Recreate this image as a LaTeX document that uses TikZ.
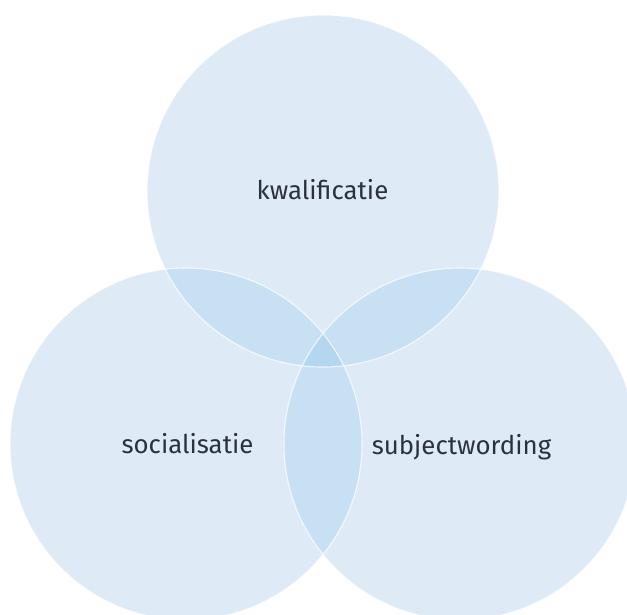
\documentclass[tikz,border=0pt]{standalone}
\usepackage{fontspec}
\setmainfont{Fira Sans}
\definecolor{one}{HTML}{DEEBF7}
\definecolor{two}{HTML}{C8E0F3}
\definecolor{three}{HTML}{B4D6EF}
\definecolor{ink}{HTML}{2C323C}
\begin{document}
\begin{tikzpicture}[x=1pt,y=-1pt,
  lbl/.style={anchor=base,text=ink,font=\fontsize{25.8}{30}\selectfont,inner sep=0pt},
  ring/.style={draw=white,draw opacity=0.75,line width=1.1pt}]
\useasboundingbox (0,0) rectangle (627,614);
\coordinate (T) at (323,191);
\coordinate (L) at (186,444);
\coordinate (R) at (460,444);
\def\rr{176}
% single fills
\fill[one] (T) circle (\rr);
\fill[one] (L) circle (\rr);
\fill[one] (R) circle (\rr);
% pairwise overlaps
\begin{scope}
  \clip (T) circle (\rr);
  \fill[two] (L) circle (\rr);
  \fill[two] (R) circle (\rr);
\end{scope}
\begin{scope}
  \clip (L) circle (\rr);
  \fill[two] (R) circle (\rr);
\end{scope}
% triple overlap
\begin{scope}
  \clip (T) circle (\rr);
  \clip (L) circle (\rr);
  \fill[three] (R) circle (\rr);
\end{scope}
% outlines
\draw[ring] (T) circle (\rr);
\draw[ring] (L) circle (\rr);
\draw[ring] (R) circle (\rr);
% labels
\node[lbl] (kw) at (322.5,199) {kwalificatie};
\node[lbl] (so) at (187.5,453) {socialisatie};
\node[lbl] (su) at (461.5,454) {subjectwording};
\end{tikzpicture}
\end{document}
